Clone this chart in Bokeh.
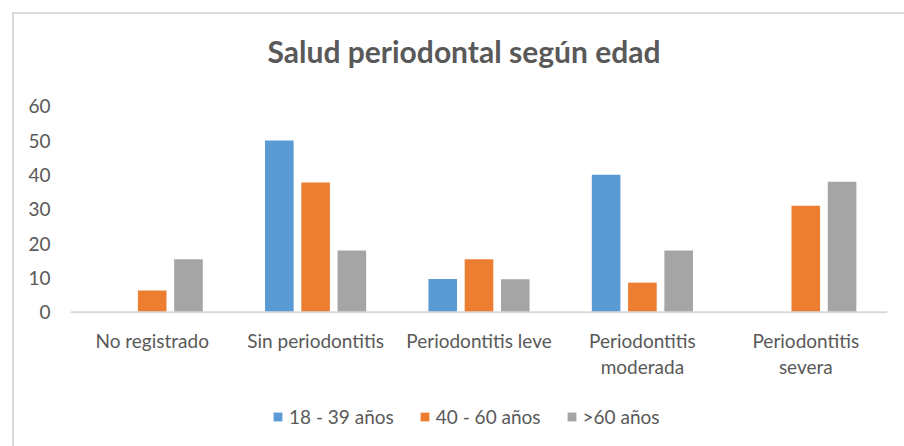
from bokeh.plotting import figure
from bokeh.models import ColumnDataSource, Legend, LegendItem, FactorRange, FixedTicker, Span
from bokeh.core.properties import value
from bokeh.transform import dodge
from bokeh.embed import file_html
from bokeh.resources import INLINE

categories = ["No registrado", "Sin periodontitis", "Periodontitis leve",
              "Periodontitis moderada", "Periodontitis severa"]
category_labels = ["No registrado", "Sin periodontitis", "Periodontitis leve",
                   "Periodontitis\nmoderada", "Periodontitis\nsevera"]
series_names = ["18 - 39 años", "40 - 60 años", ">60 años"]
s_18_39 = [0, 50, 9.7, 40, 0]
s_40_60 = [6.3, 37.8, 15.4, 8.6, 31.0]
s_60 = [15.4, 18.0, 9.6, 18.0, 38.0]
colors = ["#5B9BD5", "#ED7D31", "#A5A5A5"]
y_ticks = [0, 10, 20, 30, 40, 50, 60]
title_text = "Salud periodontal según edad"

FONT = "Lato"
TXT = "#595959"

W, H = 904, 446
FRAME_L, FRAME_R = 70, 887
ZERO_PX = 311.7          # pixel row of value 0
PX_PER_UNIT = 3.434      # pixels per unit of value
y_top = ZERO_PX / PX_PER_UNIT
y_bot = -(H - ZERO_PX) / PX_PER_UNIT

src = ColumnDataSource(dict(cat=categories, a=s_18_39, b=s_40_60, c=s_60))

p = figure(x_range=FactorRange(*categories), y_range=(y_bot, y_top),
           width=W, height=H, output_backend="svg", toolbar_location=None,
           min_border_left=FRAME_L, min_border_right=W - FRAME_R,
           min_border_top=0, min_border_bottom=0, x_axis_location=None)
p.border_fill_color = None
p.background_fill_color = None
p.outline_line_color = None
p.xgrid.visible = False
p.ygrid.visible = False
p.styles = {
    "background-image": "linear-gradient(#D9D9D9,#D9D9D9), linear-gradient(#D9D9D9,#D9D9D9)",
    "background-position": "12px 12px, 12px 12px",
    "background-size": "100% 2px, 2px 100%",
    "background-repeat": "no-repeat",
}

renderers = []
for key, dx, col in zip(["a", "b", "c"], [-0.222, 0.0, 0.222], colors):
    r = p.vbar(x=dodge("cat", dx, range=p.x_range), top=key, width=0.175,
               source=src, fill_color=col, line_color=None)
    renderers.append(r)

# category axis line at value 0
p.add_layout(Span(location=0, dimension="width", line_color="#D9D9D9", line_width=2))

# category labels (one text row per line)
lx, ly, lt, lo = [], [], [], []
for cat, lab in zip(categories, category_labels):
    for i, t in enumerate(lab.split("\n")):
        lx.append(cat); ly.append(0); lt.append(t); lo.append(28 + i * 26)
p.text(x="x", y="y", text="t", y_offset="o",
       source=ColumnDataSource(dict(x=lx, y=ly, t=lt, o=lo)),
       text_font=value(FONT), text_font_size="19px", text_color=TXT,
       text_align="center", text_baseline="alphabetic")

# title
p.text(x=[categories[2]], y=[(ZERO_PX - 50) / PX_PER_UNIT], text=[title_text], x_offset=-15,
       text_font=value(FONT), text_font_size="30px", text_font_style="bold",
       text_color=TXT, text_align="center", text_baseline="middle")

p.yaxis.ticker = FixedTicker(ticks=y_ticks)
p.yaxis.axis_line_color = None
p.yaxis.major_tick_line_color = None
p.yaxis.minor_tick_line_color = None
p.yaxis.major_tick_out = 0
p.yaxis.major_tick_in = 0
p.yaxis.major_label_text_font = FONT
p.yaxis.major_label_text_font_size = "19px"
p.yaxis.major_label_text_color = TXT
p.yaxis.major_label_standoff = 20

legend = Legend(items=[LegendItem(label=n, renderers=[r]) for n, r in zip(series_names, renderers)],
                orientation="horizontal", location=(272 - FRAME_L, H - 428),
                label_text_font=FONT, label_text_font_size="19px", label_text_color=TXT,
                glyph_width=11, glyph_height=11, spacing=25, label_standoff=6,
                padding=0, margin=0,
                border_line_color=None, background_fill_alpha=0)
p.add_layout(legend, "center")

open("out.html", "w").write(file_html(p, INLINE))
